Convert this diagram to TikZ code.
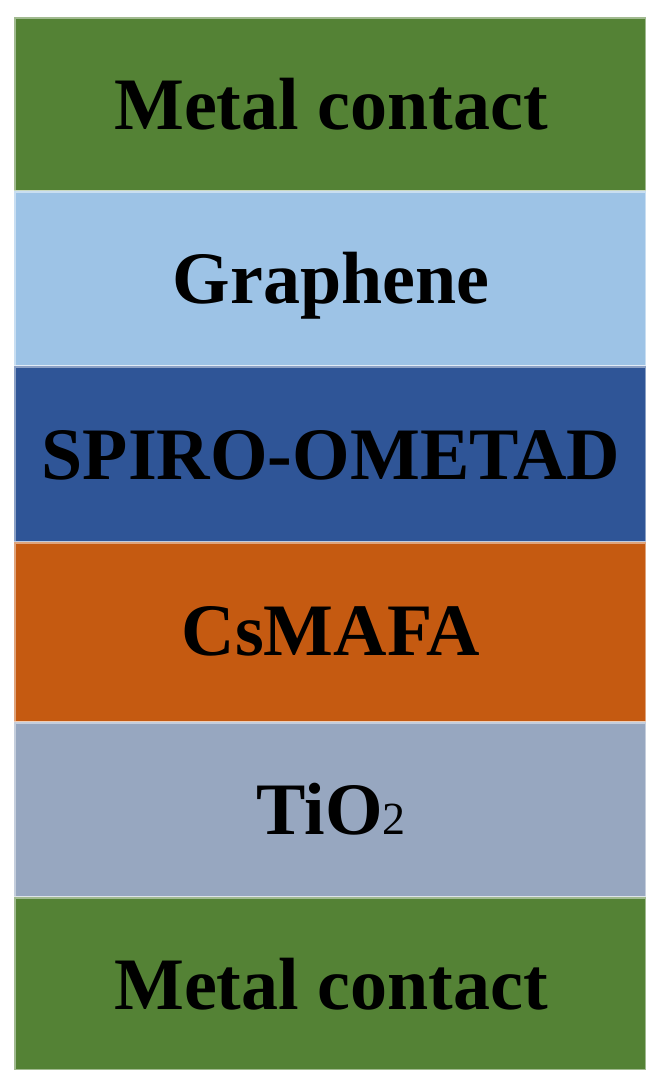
\documentclass[tikz,border=0pt]{standalone}
\usepackage{fontspec}
\setmainfont{Liberation Serif}
\begin{document}
\begin{tikzpicture}[x=1bp,y=-1bp,
  layer/.style={fill=#1, draw=white, draw opacity=0.45, line width=3bp},
  lbl/.style={anchor=base, inner sep=0pt, text=black, font=\fontsize{74bp}{80bp}\selectfont\bfseries}]
\useasboundingbox (0,0) rectangle (658,1086);
\definecolor{metal}{RGB}{84,130,53}
\definecolor{graph}{RGB}{157,195,230}
\definecolor{spiro}{RGB}{47,85,151}
\definecolor{perov}{RGB}{197,90,17}
\definecolor{tio}{RGB}{151,167,192}
\path[layer=metal] (14,17) rectangle (646,191);
\path[layer=graph] (14,191) rectangle (646,366);
\path[layer=spiro] (14,366) rectangle (646,542);
\path[layer=perov] (14,542) rectangle (646,722);
\path[layer=tio]   (14,722) rectangle (646,897);
\path[layer=metal] (14,897) rectangle (646,1070);
\node[lbl] (m1) at (331,129) {Metal contact};
\node[lbl] (gr) at (331,303) {Graphene};
\node[lbl] (sp) at (331,479) {SPIRO-OMETAD};
\node[lbl] (cs) at (331,655) {CsMAFA};
\node[lbl] (ti) at (331,834) {TiO{\fontsize{46bp}{50bp}\selectfont\mdseries 2}};
\node[lbl] (m2) at (331,1009) {Metal contact};
\end{tikzpicture}
\end{document}
